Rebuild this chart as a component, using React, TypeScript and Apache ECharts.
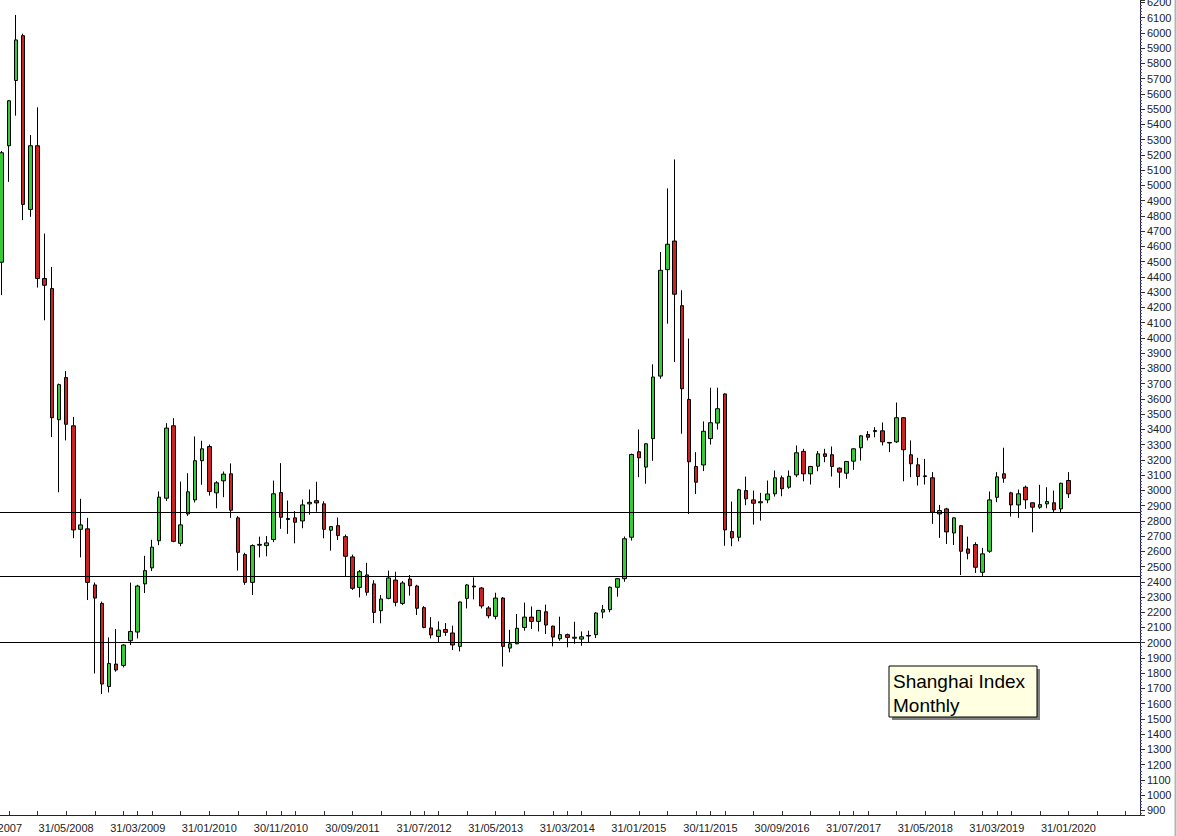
import React, { useEffect, useRef } from "react";
import * as echarts from "echarts";

// Month categories: Jul 2007 .. Nov 2020 (axis span), month-end labels
const FIRST_YEAR = 2007;
const FIRST_MONTH = 7; // July
const MONTH_COUNT = 161;
const LAST_LABEL_INDEX = 150; // 31/01/2020

// Monthly OHLC, Jul 2007 .. Jan 2020
const openValues = [
  3820, 4496, 5260, 5688, 5982, 4842,
  5260, 4389, 4323, 3463, 3739, 3423, 2744, 2747, 2379, 2258, 1713, 1860,
  1851, 2013, 2070, 2386, 2491, 2669, 2948, 3423, 2652, 2845, 2937, 3194,
  3287, 2983, 3062, 3108, 2819, 2578, 2396, 2640, 2637, 2677, 2985, 2815,
  2819, 2799, 2911, 2932, 2911, 2738, 2768, 2696, 2563, 2363, 2445, 2386,
  2210, 2291, 2411, 2258, 2418, 2372, 2230, 2097, 2041, 2087, 2064, 1976,
  2291, 2372, 2359, 2228, 2173, 2293, 1965, 1993, 2100, 2168, 2140, 2203,
  2109, 2026, 2053, 2036, 2024, 2044, 2053, 2201, 2217, 2364, 2420, 2692,
  3253, 3152, 3339, 3749, 4447, 4635, 4211, 3596, 3156, 3166, 3339, 3441,
  3632, 2729, 2692, 2998, 2937, 2918, 2937, 2977, 3082, 3020, 3101, 3255,
  3108, 3158, 3239, 3233, 3145, 3112, 3191, 3279, 3366, 3385, 3390, 3314,
  3318, 3476, 3233, 3167, 3090, 3082, 2845, 2878, 2720, 2768, 2615, 2644,
  2462, 2600, 2954, 3108, 2983, 2904, 3020, 2918, 2889, 2911, 2918, 2878,
  3064,
];
const highValues = [
  4471, 5226, 5558, 6118, 5995, 5330,
  5512, 4684, 4465, 3700, 3782, 3481, 2944, 2819, 2395, 2270, 2035, 2090,
  1990, 2394, 2380, 2570, 2675, 2992, 3440, 3473, 3057, 3112, 3353, 3325,
  3300, 3060, 3123, 3176, 2830, 2590, 2645, 2696, 2700, 3064, 3178, 2933,
  2863, 2939, 3005, 3056, 2928, 2762, 2821, 2710, 2578, 2477, 2524, 2410,
  2313, 2473, 2466, 2405, 2444, 2380, 2240, 2168, 2140, 2129, 2112, 2270,
  2385, 2429, 2365, 2240, 2328, 2300, 2085, 2188, 2263, 2238, 2215, 2250,
  2112, 2171, 2060, 2138, 2074, 2079, 2200, 2248, 2369, 2425, 2697, 3240,
  3399, 3310, 3826, 4563, 4980, 5170, 4312, 3995, 3250, 3452, 3673, 3673,
  3635, 2926, 3010, 3090, 2998, 2983, 3064, 3130, 3097, 3130, 3294, 3272,
  3160, 3257, 3272, 3287, 3150, 3192, 3275, 3362, 3388, 3414, 3445, 3316,
  3576, 3480, 3327, 3213, 3206, 3119, 2904, 2885, 2822, 2772, 2696, 2659,
  2622, 2992, 3119, 3279, 2990, 3005, 3031, 2920, 3036, 3020, 2998, 3050,
  3119,
];
const lowValues = [
  3563, 4280, 5023, 5457, 4772, 4794,
  4330, 4115, 3349, 2987, 3327, 2686, 2560, 2280, 1798, 1663, 1674, 1810,
  1838, 1985, 2028, 2326, 2470, 2640, 2930, 2659, 2633, 2832, 2920, 3036,
  2965, 2882, 2955, 2819, 2473, 2380, 2313, 2560, 2567, 2660, 2747, 2714,
  2652, 2751, 2840, 2859, 2685, 2604, 2674, 2433, 2346, 2298, 2309, 2129,
  2127, 2285, 2239, 2248, 2309, 2182, 2095, 2028, 2002, 2045, 1952, 1943,
  2225, 2284, 2225, 2160, 2153, 1844, 1937, 1990, 2079, 2090, 2074, 2057,
  1976, 2013, 1970, 1993, 1980, 2002, 2031, 2160, 2200, 2302, 2400, 2670,
  3086, 3043, 3193, 3732, 4093, 3841, 3371, 2845, 2976, 3126, 3300, 3398,
  2636, 2633, 2665, 2902, 2775, 2801, 2915, 2959, 2961, 3010, 3086, 3059,
  3038, 3125, 3184, 3090, 3016, 3075, 3134, 3195, 3327, 3348, 3294, 3250,
  3310, 3059, 3086, 3031, 3038, 2780, 2688, 2648, 2641, 2444, 2547, 2458,
  2433, 2590, 2922, 3049, 2828, 2819, 2878, 2724, 2878, 2882, 2856, 2856,
  2950,
];
const closeValues = [
  4471, 5214, 5555, 5954, 4875, 5260,
  4389, 4345, 3476, 3693, 3433, 2740, 2773, 2396, 2293, 1729, 1864, 1821,
  1985, 2074, 2372, 2473, 2627, 2955, 3408, 2665, 2773, 2990, 3194, 3272,
  2992, 3049, 3106, 2869, 2593, 2396, 2637, 2645, 2655, 2977, 2823, 2808,
  2790, 2904, 2921, 2917, 2744, 2762, 2703, 2567, 2357, 2466, 2331, 2199,
  2287, 2425, 2265, 2392, 2374, 2226, 2100, 2051, 2083, 2068, 1985, 2267,
  2379, 2366, 2241, 2177, 2293, 1976, 1993, 2095, 2168, 2140, 2212, 2116,
  2037, 2053, 2035, 2030, 2039, 2048, 2195, 2217, 2364, 2420, 2682, 3235,
  3213, 3305, 3743, 4443, 4614, 4286, 3666, 3187, 3053, 3387, 3443, 3535,
  2740, 2688, 3003, 2944, 2915, 2925, 2976, 3082, 3010, 3092, 3246, 3108,
  3156, 3239, 3222, 3156, 3119, 3189, 3272, 3357, 3348, 3392, 3318, 3310,
  3476, 3266, 3174, 3090, 3095, 2856, 2867, 2727, 2819, 2600, 2587, 2495,
  2583, 2937, 3088, 3079, 2904, 2977, 2937, 2889, 2906, 2926, 2872, 3046,
  2977,
];

// Horizontal support/resistance levels
const levelLines = [2855, 2436, 2000];

// Title box text
const titleLines = ["Shanghai Index", "Monthly"];

const FONT = "'Liberation Sans', Arial, sans-serif";
const SHIFT = 20; // container is shifted left so the first label can be cut

function monthEndLabel(i: number): string {
  const total = FIRST_MONTH - 1 + i;
  const y = FIRST_YEAR + Math.floor(total / 12);
  const m = (total % 12) + 1;
  const d = new Date(Date.UTC(y, m, 0)).getUTCDate();
  const pad = (n: number) => (n < 10 ? "0" + n : String(n));
  return `${pad(d)}/${pad(m)}/${y}`;
}

export default function App() {
  const ref = useRef<HTMLDivElement>(null);

  useEffect(() => {
    if (!ref.current) return;
    const chart = echarts.init(ref.current, undefined, { renderer: "svg" });

    const categories: string[] = [];
    for (let i = 0; i < MONTH_COUNT; i++) categories.push(monthEndLabel(i));

    const candles = openValues.map((o, i) => [o, closeValues[i], lowValues[i], highValues[i]]);

    const boxX = 889 + SHIFT;
    const boxY = 666;

    chart.setOption({
      animation: false,
      backgroundColor: "#ffffff",
      grid: {
        left: SHIFT - 5.46,
        right: 37,
        top: 0,
        bottom: 21,
        containLabel: false,
        outerBoundsMode: "none",
      },
      xAxis: {
        type: "category",
        data: categories,
        boundaryGap: false,
        axisLine: { show: true, lineStyle: { color: "#1c1c5c", width: 1 } },
        axisTick: {
          show: true,
          inside: true,
          length: 4,
          interval: (idx: number) => idx % 10 === 0 || idx % 4 === 2,
          lineStyle: { color: "#333" },
        },
        axisLabel: {
          interval: (idx: number) => idx % 10 === 0 && idx <= LAST_LABEL_INDEX,
          margin: 7,
          fontSize: 11,
          color: "#222",
          fontFamily: FONT,
          hideOverlap: false,
        },
        splitLine: { show: false },
      },
      yAxis: {
        type: "value",
        position: "right",
        min: 870,
        max: 6216,
        splitNumber: 53,
        axisLine: { show: true, lineStyle: { color: "#1c1c5c", width: 1 } },
        axisTick: { show: true, length: 5, lineStyle: { color: "#333" } },
        minorTick: { show: true, splitNumber: 5, length: 2, lineStyle: { color: "#556" } },
        axisLabel: {
          margin: 7,
          fontSize: 11,
          color: "#222",
          fontFamily: FONT,
          showMinLabel: false,
          showMaxLabel: false,
          formatter: (v: number) => (Math.round(v) % 100 === 0 ? String(v) : ""),
        },
        splitLine: { show: false },
      },
      series: [
        {
          type: "candlestick",
          data: candles,
          barWidth: 4,
          itemStyle: {
            color: "#33cc33",
            color0: "#cc2222",
            borderColor: "#000000",
            borderColor0: "#000000",
            borderWidth: 1,
          },
          emphasis: { disabled: true },
          markLine: {
            silent: true,
            symbol: ["none", "none"],
            label: { show: false },
            lineStyle: { color: "#000", width: 1, type: "solid" },
            emphasis: { disabled: true },
            data: levelLines.map((v) => ({ yAxis: v })),
          },
        },
      ],
      graphic: [
        {
          type: "line",
          shape: { x1: 1175.5 + SHIFT, y1: 0, x2: 1175.5 + SHIFT, y2: 836 },
          style: { stroke: "#b4b4b4", lineWidth: 2 },
          silent: true,
        },
        {
          type: "rect",
          shape: { x: boxX + 3, y: boxY + 3, width: 148, height: 51 },
          style: { fill: "#808080" },
          silent: true,
        },
        {
          type: "rect",
          shape: { x: boxX, y: boxY, width: 148, height: 51 },
          style: { fill: "#ffffe1", stroke: "#000", lineWidth: 1 },
          silent: true,
        },
        ...titleLines.map((t, i) => ({
          type: "text",
          x: boxX + 4,
          y: 681.5 + i * 24,
          style: {
            text: t,
            fill: "#000",
            fontSize: 19,
            fontFamily: FONT,
            verticalAlign: "middle",
            align: "left",
          },
          silent: true,
        })),
      ],
    });

    return () => chart.dispose();
  }, []);

  return (
    <div
      ref={ref}
      style={{ position: "absolute", left: -SHIFT, top: 0, width: 1177 + SHIFT, height: 836 }}
    />
  );
}
